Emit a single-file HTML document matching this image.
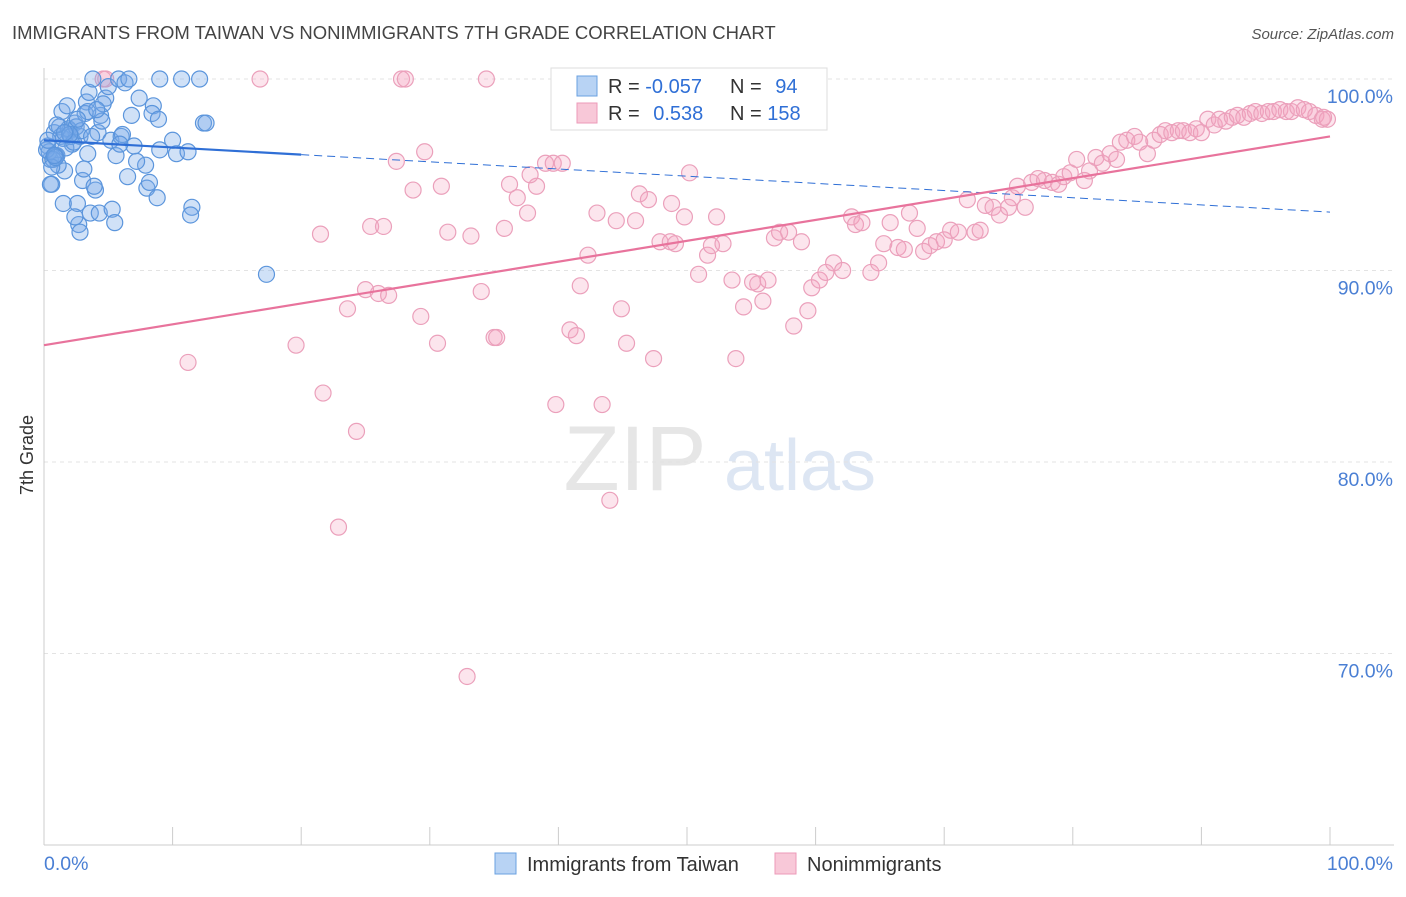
<!DOCTYPE html>
<html><head><meta charset="utf-8">
<style>
body{margin:0;background:#fff;width:1406px;height:892px;overflow:hidden;font-family:"Liberation Sans",sans-serif}
svg text{font-family:"Liberation Sans",sans-serif}
</style></head>
<body>
<svg id="chart" width="1406" height="892">
<text x="12" y="39" font-size="18.5" fill="#444">IMMIGRANTS FROM TAIWAN VS NONIMMIGRANTS 7TH GRADE CORRELATION CHART</text>
<text x="1394" y="39" font-size="15" fill="#555" font-style="italic" text-anchor="end">Source: ZipAtlas.com</text>
<text transform="translate(33,455) rotate(-90)" font-size="18" fill="#333" text-anchor="middle">7th Grade</text>
<g>
<text x="635" y="490" font-size="92" fill="#dcdcdc" font-family="Liberation Serif" text-anchor="middle" opacity="0.7">ZIP</text>
<text x="800" y="490" font-size="72" fill="#cfdcef" text-anchor="middle" opacity="0.7">atlas</text>
</g>
<g id="grid"></g>
<g id="axes"></g>
<g id="pts"></g>
<g id="lines"></g>
<g>
<rect x="551" y="68" width="276" height="62" fill="#fff" stroke="#ddd"/>
<rect x="577" y="76" width="20" height="20" fill="#b8d3f4" stroke="#6aa0e0"/>
<rect x="577" y="103" width="20" height="20" fill="#f8c8d8" stroke="#ec9ab8"/>
<text x="608" y="93" font-size="20" fill="#333">R = <tspan fill="#2f6fd6">-0.057</tspan></text>
<text x="730" y="93" font-size="20" fill="#333">N = <tspan fill="#2f6fd6" dx="8">94</tspan></text>
<text x="608" y="120" font-size="20" fill="#333">R = <tspan fill="#2f6fd6" dx="8">0.538</tspan></text>
<text x="730" y="120" font-size="20" fill="#333">N = <tspan fill="#2f6fd6">158</tspan></text>
</g>
<g>
<rect x="495" y="853" width="21" height="21" fill="#b8d3f4" stroke="#6aa0e0"/>
<text x="527" y="871" font-size="20" fill="#333">Immigrants from Taiwan</text>
<rect x="775" y="853" width="21" height="21" fill="#f8c8d8" stroke="#ec9ab8"/>
<text x="807" y="871" font-size="20" fill="#333">Nonimmigrants</text>
</g>
</svg>
<script>
const yTicks=[100,90,80,70];
const yTickLabels=["100.0%","90.0%","80.0%","70.0%"];
const xTicks=[0,10,20,30,40,50,60,70,80,90,100];
const xTickLabels=["0.0%","100.0%"];
const blueX=[0.3,0.5,0.6,0.8,1,1.2,1.4,1.6,1.8,2,2.2,2.4,2.6,2.8,3,2.7,2.8,3.3,3.4,3.5,3.6,3.8,4,4.2,4.4,4.5,4.3,4.8,5,5.3,5.5,5.2,5.6,5.8,6,6.3,7.4,7.9,8,8.2,6.6,8.5,8.4,8.8,9,8.9,9,10.3,10,10.7,11.2,11.5,11.4,12.1,12.4,12.6,17.3,0.4,0.5,0.9,1.1,1.3,1.5,1.7,1.9,2.1,2.3,2.5,2.9,3.1,3.2,0.2,0.7,1.0,2.0,3.4,4.6,6.1,6.8,7.0,6.5,0.6,1.5,2.4,3.9,0.3,0.9,1.6,2.6,3.7,4.1,5.9,7.2,0.8];
const blueY=[96.5,95.8,94.5,97.2,96,97.5,98.3,95.2,98.6,97.3,96.6,97.7,93.5,97,94.7,92.4,92,98.8,96.1,99.3,93,100,94.2,97.2,98.1,97.8,93,99,99.6,93.2,92.5,96.8,96,100,97,99.8,99,95.5,94.3,94.6,100,98.6,98.2,93.8,96.3,97.9,100,96.1,96.8,100,96.2,93.3,92.9,100,97.7,97.7,89.8,96.2,94.5,96,95.5,97,96.9,96.4,97.4,97,96.7,97.5,97.3,95.3,98.2,96.3,95.8,97.6,97.1,98.3,98.7,97.1,98.1,96.5,94.9,95.4,93.5,92.8,94.4,96.8,95.9,97.2,97.9,97.0,98.4,96.6,95.7,96.0];
const pinkX=[4.8,4.6,16.8,27.8,28.1,34.4,11.2,19.6,21.7,24.3,22.9,32.9,21.5,25.0,26.0,26.8,23.6,27.4,29.6,28.7,30.9,25.4,26.4,31.4,33.2,29.3,30.6,34.0,35.0,35.2,35.8,36.2,36.8,37.6,38.3,37.8,39.0,39.6,40.3,39.8,40.9,41.4,41.7,42.3,43.0,43.4,44.0,44.5,44.9,45.3,46.0,46.3,47.0,47.4,47.9,48.7,49.1,48.8,49.8,50.2,50.9,51.6,51.9,52.3,52.8,53.5,53.8,54.4,55.1,55.5,55.9,56.3,56.8,57.2,57.9,58.3,58.9,59.4,59.7,60.3,60.8,61.4,62.1,62.8,63.1,63.6,64.3,64.9,65.3,65.8,66.4,66.9,67.3,67.9,68.4,68.9,69.4,70.0,70.5,71.1,71.8,72.4,72.8,73.2,73.8,74.3,75.0,75.3,75.7,76.3,76.8,77.3,77.8,78.4,78.9,79.3,79.8,80.3,80.9,81.3,81.8,82.3,82.9,83.4,83.7,84.2,84.8,85.2,85.8,86.3,86.8,87.2,87.7,88.2,88.6,89.1,89.6,90.0,90.5,91.0,91.4,91.9,92.4,92.8,93.3,93.8,94.2,94.7,95.2,95.6,96.1,96.6,97.0,97.5,98.0,98.4,98.9,99.4,99.8,99.5];
const pinkY=[100,100,100,100,100,100,85.2,86.1,83.6,81.6,76.6,68.8,91.9,89.0,88.8,88.7,88.0,95.7,96.2,94.2,94.4,92.3,92.3,92.0,91.8,87.6,86.2,88.9,86.5,86.5,92.2,94.5,93.8,93.0,94.4,95.0,95.6,95.6,95.6,83.0,86.9,86.6,89.2,90.8,93.0,83.0,78.0,92.6,88.0,86.2,92.6,94.0,93.7,85.4,91.5,91.5,91.4,93.5,92.8,95.1,89.8,90.8,91.3,92.8,91.4,89.5,85.4,88.1,89.4,89.3,88.4,89.5,91.7,92.0,92.0,87.1,91.5,87.9,89.1,89.5,89.9,90.4,90.0,92.8,92.4,92.5,89.9,90.4,91.4,92.5,91.2,91.1,93.0,92.2,91.0,91.3,91.5,91.6,92.1,92.0,93.7,92.0,92.1,93.4,93.3,92.9,93.3,93.8,94.4,93.3,94.6,94.8,94.7,94.6,94.5,94.9,95.1,95.8,94.7,95.2,95.9,95.6,96.1,95.8,96.7,96.8,97.0,96.7,96.1,96.8,97.1,97.3,97.2,97.3,97.3,97.2,97.4,97.2,97.9,97.6,97.9,97.8,98.0,98.1,98.0,98.2,98.3,98.2,98.3,98.3,98.4,98.3,98.3,98.5,98.4,98.3,98.1,97.9,97.9,98.0];
const blueTrend=[96.8,93.05];
const pinkTrend=[86.1,97.0];

const X0=44,X1=1330,YT=79,YB=845;
const xs=v=>X0+(X1-X0)*v/100;
const ys=v=>YT+(100-v)*(YB-YT)/40;
const NS="http://www.w3.org/2000/svg";
function mk(tag,attrs,parent){const e=document.createElementNS(NS,tag);for(const k in attrs)e.setAttribute(k,attrs[k]);parent.appendChild(e);return e;}
const grid=document.getElementById('grid'),axes=document.getElementById('axes'),pts=document.getElementById('pts'),lines=document.getElementById('lines');
yTicks.forEach((t,i)=>{
 const l=mk('line',{x1:X0,x2:1394,y1:ys(t),y2:ys(t),stroke:'#e3e3e3','stroke-dasharray':'4,4'},grid);
 
 
 const tx=mk('text',{x:1393,y:ys(t)+24,'font-size':19.5,fill:'#4a7fd4','text-anchor':'end'},axes);
 tx.textContent=yTickLabels[i];
 
 
});
const ax=mk('line',{x1:X0,x2:1394,y1:YB,y2:YB,stroke:'#ccc'},axes);


const ay=mk('line',{x1:X0,x2:X0,y1:68,y2:YB,stroke:'#ccc'},axes);


xTicks.forEach(t=>{
 const l=mk('line',{x1:xs(t),x2:xs(t),y1:YB,y2:YB-18,stroke:'#ccc'},axes);
 
 
});
const xl0=mk('text',{x:44,y:870,'font-size':19.5,fill:'#4a7fd4'},axes);xl0.textContent=xTickLabels[0];


const xl1=mk('text',{x:1393,y:870,'font-size':19.5,fill:'#4a7fd4','text-anchor':'end'},axes);xl1.textContent=xTickLabels[1];


pinkX.forEach((x,i)=>{
 const c=mk('circle',{cx:xs(x),cy:ys(pinkY[i]),r:8,fill:'rgba(244,160,190,0.28)',stroke:'#eba0bb','stroke-width':1.2},pts);
 
 
});
blueX.forEach((x,i)=>{
 const c=mk('circle',{cx:xs(x),cy:ys(blueY[i]),r:8,fill:'rgba(120,170,232,0.35)',stroke:'#5b95dc','stroke-width':1.2},pts);
 
 
});
const bAt=x=>blueTrend[0]+(blueTrend[1]-blueTrend[0])*x/100;
const b1=mk('line',{x1:xs(0),y1:ys(bAt(0)),x2:xs(20),y2:ys(bAt(20)),stroke:'#2f6fd6','stroke-width':2.2},lines);


const b2=mk('line',{x1:xs(20),y1:ys(bAt(20)),x2:xs(100),y2:ys(bAt(100)),stroke:'#2f6fd6','stroke-width':1,'stroke-dasharray':'8,5'},lines);


const p1=mk('line',{x1:xs(0),y1:ys(pinkTrend[0]),x2:xs(100),y2:ys(pinkTrend[1]),stroke:'#e8739c','stroke-width':2.2},lines);


</script>
</body></html>
